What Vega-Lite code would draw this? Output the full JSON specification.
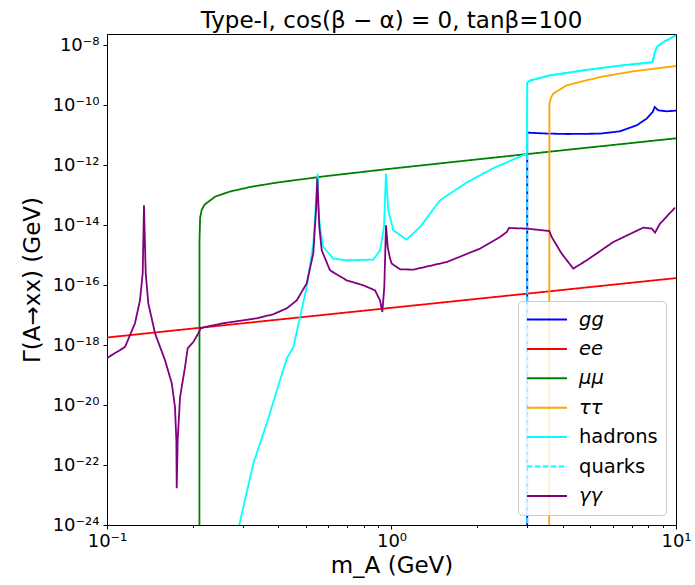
{
  "$schema": "https://vega.github.io/schema/vega-lite/v6.json",
  "autosize": {"type": "none"},
  "padding": {"left": 107, "top": 34, "right": 19, "bottom": 60},
  "width": 569,
  "height": 491,
  "title": {"text": "Type-I, cos(β − α) = 0, tanβ=100", "fontSize": 23, "font": "DejaVu Sans", "fontWeight": "normal", "color": "black", "anchor": "middle", "baseline": "bottom", "offset": 2, "dy": 24},
  "data": {"values": [
    {"ch": "gg", "m": 2.999, "G": 1e-30},
    {"ch": "gg", "m": 3.0, "G": 1.2e-11},
    {"ch": "gg", "m": 3.5, "G": 1.12e-11},
    {"ch": "gg", "m": 4.128, "G": 1.08e-11},
    {"ch": "gg", "m": 5.407, "G": 1.11e-11},
    {"ch": "gg", "m": 6.356, "G": 1.33e-11},
    {"ch": "gg", "m": 7.274, "G": 2.11e-11},
    {"ch": "gg", "m": 7.888, "G": 3.52e-11},
    {"ch": "gg", "m": 8.28, "G": 5.84e-11},
    {"ch": "gg", "m": 8.415, "G": 8.58e-11},
    {"ch": "gg", "m": 8.666, "G": 6.66e-11},
    {"ch": "gg", "m": 9.276, "G": 6.17e-11},
    {"ch": "gg", "m": 10, "G": 6.5e-11},
    {"ch": "ee", "m": 0.1, "G": 1.78e-18},
    {"ch": "ee", "m": 10, "G": 1.7e-16},
    {"ch": "μμ", "m": 0.2112, "G": 1e-30},
    {"ch": "μμ", "m": 0.2114, "G": 3.2e-15},
    {"ch": "μμ", "m": 0.2125, "G": 1.75e-14},
    {"ch": "μμ", "m": 0.215, "G": 3.08e-14},
    {"ch": "μμ", "m": 0.22, "G": 4.75e-14},
    {"ch": "μμ", "m": 0.24, "G": 8.83e-14},
    {"ch": "μμ", "m": 0.27, "G": 1.3e-13},
    {"ch": "μμ", "m": 0.32, "G": 1.87e-13},
    {"ch": "μμ", "m": 0.4, "G": 2.64e-13},
    {"ch": "μμ", "m": 0.6, "G": 4.36e-13},
    {"ch": "μμ", "m": 1, "G": 7.58e-13},
    {"ch": "μμ", "m": 2, "G": 1.54e-12},
    {"ch": "μμ", "m": 4, "G": 3.1e-12},
    {"ch": "μμ", "m": 10, "G": 7.76e-12},
    {"ch": "ττ", "m": 3.58, "G": 1e-30},
    {"ch": "ττ", "m": 3.59, "G": 1.11e-10},
    {"ch": "ττ", "m": 3.64, "G": 1.8e-10},
    {"ch": "ττ", "m": 3.704, "G": 2.4e-10},
    {"ch": "ττ", "m": 4.128, "G": 4.54e-10},
    {"ch": "ττ", "m": 5.407, "G": 8.58e-10},
    {"ch": "ττ", "m": 7.078, "G": 1.33e-9},
    {"ch": "ττ", "m": 10, "G": 2.0e-9},
    {"ch": "hadrons", "m": 0.285, "G": 3e-25},
    {"ch": "hadrons", "m": 0.2917, "G": 1e-24},
    {"ch": "hadrons", "m": 0.3267, "G": 1.11e-22},
    {"ch": "hadrons", "m": 0.3641, "G": 2.4e-21},
    {"ch": "hadrons", "m": 0.4056, "G": 6.66e-20},
    {"ch": "hadrons", "m": 0.4284, "G": 3.52e-19},
    {"ch": "hadrons", "m": 0.4519, "G": 8.58e-19},
    {"ch": "hadrons", "m": 0.477, "G": 8.58e-18},
    {"ch": "hadrons", "m": 0.5035, "G": 8.58e-17},
    {"ch": "hadrons", "m": 0.5311, "G": 2.4e-15},
    {"ch": "hadrons", "m": 0.5504, "G": 5.17e-13},
    {"ch": "hadrons", "m": 0.553, "G": 4e-14},
    {"ch": "hadrons", "m": 0.5607, "G": 8.58e-15},
    {"ch": "hadrons", "m": 0.5758, "G": 1.85e-15},
    {"ch": "hadrons", "m": 0.6244, "G": 7.59e-16},
    {"ch": "hadrons", "m": 0.6958, "G": 6.66e-16},
    {"ch": "hadrons", "m": 0.863, "G": 7.03e-16},
    {"ch": "hadrons", "m": 0.9113, "G": 1.43e-15},
    {"ch": "hadrons", "m": 0.9409, "G": 8.58e-15},
    {"ch": "hadrons", "m": 0.9564, "G": 5.17e-13},
    {"ch": "hadrons", "m": 0.9745, "G": 3.09e-14},
    {"ch": "hadrons", "m": 1.0146, "G": 6.66e-15},
    {"ch": "hadrons", "m": 1.131, "G": 3.26e-15},
    {"ch": "hadrons", "m": 1.2596, "G": 8.58e-15},
    {"ch": "hadrons", "m": 1.481, "G": 6.66e-14},
    {"ch": "hadrons", "m": 1.8427, "G": 2.65e-13},
    {"ch": "hadrons", "m": 2.2746, "G": 7.76e-13},
    {"ch": "hadrons", "m": 2.899, "G": 2.11e-12},
    {"ch": "hadrons", "m": 2.995, "G": 2.4e-12},
    {"ch": "hadrons", "m": 3.0, "G": 5.58e-10},
    {"ch": "hadrons", "m": 3.068, "G": 6.66e-10},
    {"ch": "hadrons", "m": 3.607, "G": 9.77e-10},
    {"ch": "hadrons", "m": 4.722, "G": 1.43e-9},
    {"ch": "hadrons", "m": 6.188, "G": 2.0e-9},
    {"ch": "hadrons", "m": 8.28, "G": 2.71e-9},
    {"ch": "hadrons", "m": 8.37, "G": 4.54e-9},
    {"ch": "hadrons", "m": 8.55, "G": 8.58e-9},
    {"ch": "hadrons", "m": 9.03, "G": 1.26e-8},
    {"ch": "hadrons", "m": 10, "G": 2.1e-8},
    {"ch": "quarks", "m": 2.999, "G": 1e-30},
    {"ch": "quarks", "m": 3.0, "G": 5.46e-10},
    {"ch": "quarks", "m": 3.068, "G": 6.54e-10},
    {"ch": "quarks", "m": 3.607, "G": 9.66e-10},
    {"ch": "quarks", "m": 4.722, "G": 1.42e-9},
    {"ch": "quarks", "m": 6.188, "G": 1.99e-9},
    {"ch": "quarks", "m": 8.28, "G": 2.65e-9},
    {"ch": "quarks", "m": 8.37, "G": 4.45e-9},
    {"ch": "quarks", "m": 8.55, "G": 8.5e-9},
    {"ch": "quarks", "m": 9.03, "G": 1.25e-8},
    {"ch": "quarks", "m": 10, "G": 2.09e-8},
    {"ch": "γγ", "m": 0.1, "G": 3.69e-19},
    {"ch": "γγ", "m": 0.1157, "G": 8.58e-19},
    {"ch": "γγ", "m": 0.1254, "G": 5.29e-18},
    {"ch": "γγ", "m": 0.1306, "G": 3.09e-17},
    {"ch": "γγ", "m": 0.1335, "G": 2.45e-16},
    {"ch": "γγ", "m": 0.1349, "G": 4.54e-14},
    {"ch": "γγ", "m": 0.1368, "G": 2.45e-16},
    {"ch": "γγ", "m": 0.1397, "G": 2.45e-17},
    {"ch": "γγ", "m": 0.1475, "G": 2.45e-18},
    {"ch": "γγ", "m": 0.16, "G": 3.09e-19},
    {"ch": "γγ", "m": 0.1689, "G": 5.29e-20},
    {"ch": "γγ", "m": 0.1734, "G": 8.38e-21},
    {"ch": "γγ", "m": 0.1753, "G": 6.66e-22},
    {"ch": "γγ", "m": 0.1758, "G": 1.67e-23},
    {"ch": "γγ", "m": 0.1772, "G": 6.66e-22},
    {"ch": "γγ", "m": 0.1806, "G": 1.81e-20},
    {"ch": "γγ", "m": 0.188, "G": 1.81e-19},
    {"ch": "γγ", "m": 0.1921, "G": 7.76e-19},
    {"ch": "γγ", "m": 0.2011, "G": 1.26e-18},
    {"ch": "γγ", "m": 0.2094, "G": 2.45e-18},
    {"ch": "γγ", "m": 0.2135, "G": 3.6e-18},
    {"ch": "γγ", "m": 0.2211, "G": 3.98e-18},
    {"ch": "γγ", "m": 0.2557, "G": 5.29e-18},
    {"ch": "γγ", "m": 0.3359, "G": 7.76e-18},
    {"ch": "γγ", "m": 0.3831, "G": 1.05e-17},
    {"ch": "γγ", "m": 0.4284, "G": 1.67e-17},
    {"ch": "γγ", "m": 0.4645, "G": 3.09e-17},
    {"ch": "γγ", "m": 0.5035, "G": 1.14e-16},
    {"ch": "γγ", "m": 0.5311, "G": 1.14e-15},
    {"ch": "γγ", "m": 0.5428, "G": 3.09e-14},
    {"ch": "γγ", "m": 0.5486, "G": 3.6e-13},
    {"ch": "γγ", "m": 0.5575, "G": 8.58e-15},
    {"ch": "γγ", "m": 0.5685, "G": 1.43e-15},
    {"ch": "γγ", "m": 0.6079, "G": 3.09e-16},
    {"ch": "γγ", "m": 0.6958, "G": 1.43e-16},
    {"ch": "γγ", "m": 0.7963, "G": 9.77e-17},
    {"ch": "γγ", "m": 0.875, "G": 6.66e-17},
    {"ch": "γγ", "m": 0.9113, "G": 3.09e-17},
    {"ch": "γγ", "m": 0.9283, "G": 1.26e-17},
    {"ch": "γγ", "m": 0.9434, "G": 8.58e-17},
    {"ch": "γγ", "m": 0.9564, "G": 9.77e-15},
    {"ch": "γγ", "m": 0.9697, "G": 1.85e-15},
    {"ch": "γγ", "m": 0.9879, "G": 7.76e-16},
    {"ch": "γγ", "m": 1.0016, "G": 5.17e-16},
    {"ch": "γγ", "m": 1.0713, "G": 3.34e-16},
    {"ch": "γγ", "m": 1.193, "G": 3.26e-16},
    {"ch": "γγ", "m": 1.563, "G": 5.84e-16},
    {"ch": "γγ", "m": 2.047, "G": 1.63e-15},
    {"ch": "γγ", "m": 2.406, "G": 3.98e-15},
    {"ch": "γγ", "m": 2.541, "G": 5.84e-15},
    {"ch": "γγ", "m": 2.588, "G": 7.94e-15},
    {"ch": "γγ", "m": 2.987, "G": 7.59e-15},
    {"ch": "γγ", "m": 3.587, "G": 6.31e-15},
    {"ch": "γγ", "m": 3.657, "G": 3.98e-15},
    {"ch": "γγ", "m": 3.964, "G": 1.11e-15},
    {"ch": "γγ", "m": 4.355, "G": 3.52e-16},
    {"ch": "γγ", "m": 4.854, "G": 6.66e-16},
    {"ch": "γγ", "m": 6.02, "G": 2.71e-15},
    {"ch": "γγ", "m": 7.674, "G": 8.18e-15},
    {"ch": "γγ", "m": 8.216, "G": 7.59e-15},
    {"ch": "γγ", "m": 8.437, "G": 5.58e-15},
    {"ch": "γγ", "m": 8.787, "G": 1.11e-14},
    {"ch": "γγ", "m": 9.92, "G": 3.8e-14}
  ]},
  "mark": {"type": "line", "clip": true, "strokeWidth": 1.8},
  "encoding": {
    "x": {"field": "m", "type": "quantitative",
      "scale": {"type": "log", "domain": [0.1, 10], "nice": false},
      "axis": {"title": "m_A (GeV)",
        "values": [0.1,0.2,0.3,0.4,0.5,0.6,0.7,0.8,0.9,1,2,3,4,5,6,7,8,9,10],
        "labelExpr": "abs(log(datum.value)/LN10 - round(log(datum.value)/LN10)) < 0.001 ? '10' + replace(replace(replace(replace(replace(replace(replace(replace(replace(replace(replace('' + round(log(datum.value)/LN10), '-', '⁻'), regexp('0','g'), '⁰'), regexp('1','g'), '¹'), regexp('2','g'), '²'), regexp('3','g'), '³'), regexp('4','g'), '⁴'), regexp('5','g'), '⁵'), regexp('6','g'), '⁶'), regexp('7','g'), '⁷'), regexp('8','g'), '⁸'), regexp('9','g'), '⁹') : ''",
        "tickSize": {"condition": {"test": "abs(log(datum.value)/LN10 - round(log(datum.value)/LN10)) < 0.001", "value": 4}, "value": 2.5},
        "labelFlush": false, "labelOverlap": false, "labelPadding": 3, "titlePadding": 4}},
    "y": {"field": "G", "type": "quantitative",
      "scale": {"type": "log", "domain": [1e-24, 2.33e-8], "nice": false},
      "axis": {"title": "Γ(A→xx) (GeV)",
        "values": [1e-24,1e-22,1e-20,1e-18,1e-16,1e-14,1e-12,1e-10,1e-8],
        "labelExpr": "'10' + replace(replace(replace(replace(replace(replace(replace(replace(replace(replace(replace('' + round(log(datum.value)/LN10), '-', '⁻'), regexp('0','g'), '⁰'), regexp('1','g'), '¹'), regexp('2','g'), '²'), regexp('3','g'), '³'), regexp('4','g'), '⁴'), regexp('5','g'), '⁵'), regexp('6','g'), '⁶'), regexp('7','g'), '⁷'), regexp('8','g'), '⁸'), regexp('9','g'), '⁹')",
        "tickSize": 4, "labelPadding": 4, "titlePadding": 8, "labelFlush": false, "labelOverlap": false}},
    "color": {"field": "ch", "type": "nominal",
      "scale": {"domain": ["gg", "ee", "μμ", "ττ", "hadrons", "quarks", "γγ"],
                "range": ["#0000ff", "#ff0000", "#008000", "#ffa500", "#00ffff", "#00ffff", "#800080"]},
      "legend": {"title": null,
        "encode": {"labels": {"update": {"fontStyle": {"signal": "datum.value === 'hadrons' || datum.value === 'quarks' ? 'normal' : 'italic'"}}}}}},
    "strokeDash": {"field": "ch", "type": "nominal",
      "scale": {"domain": ["gg", "ee", "μμ", "ττ", "hadrons", "quarks", "γγ"],
                "range": [[1,0],[1,0],[1,0],[1,0],[1,0],[5.5,2.4],[1,0]]},
      "legend": {"title": null}}
  },
  "config": {
    "font": "DejaVu Sans",
    "view": {"stroke": "black", "strokeWidth": 1},
    "axis": {"grid": false, "domainColor": "black", "tickColor": "black", "labelColor": "black", "titleColor": "black",
      "labelFont": "DejaVu Sans", "titleFont": "DejaVu Sans", "labelFontSize": 18, "titleFontSize": 23, "titleFontWeight": "normal", "domainWidth": 1, "tickWidth": 1},
    "legend": {"orient": "bottom-right", "offset": 10, "symbolType": "stroke", "symbolSize": 1600, "symbolStrokeWidth": 2,
      "clipHeight": 21, "labelFontSize": 19.5, "labelFont": "DejaVu Sans", "labelColor": "black", "labelOffset": 11, "padding": 8, "rowPadding": 8.4,
      "cornerRadius": 4, "strokeColor": "#cccccc", "fillColor": "rgba(255,255,255,0.8)"}
  }
}
